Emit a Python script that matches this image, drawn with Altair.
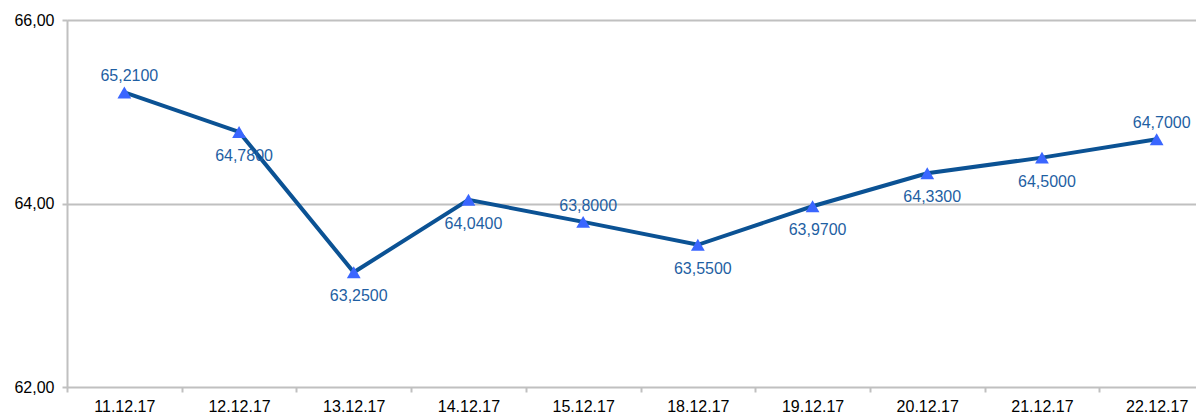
import altair as alt
import pandas as pd

dates = ["11.12.17", "12.12.17", "13.12.17", "14.12.17", "15.12.17",
         "18.12.17", "19.12.17", "20.12.17", "21.12.17", "22.12.17"]
values = [65.21, 64.78, 63.25, 64.04, 63.80, 63.55, 63.97, 64.33, 64.50, 64.70]
label_side = ["above", "below", "below", "below", "above",
              "below", "below", "below", "below", "above"]

df = pd.DataFrame({"idx": list(range(len(dates))), "date": dates,
                   "value": values, "side": label_side})

date_arr = "[" + ",".join(f"'{d}'" for d in dates) + "]"
tick_vals = [i * 0.5 - 0.5 for i in range(2 * len(dates) + 1)]

FONT = "Liberation Sans"

x_enc = alt.X("idx:Q",
              scale=alt.Scale(domain=[-0.5, 9.343], nice=False, zero=False),
              axis=alt.Axis(values=tick_vals, title=None, grid=False,
                            domain=False,
                            labelExpr=f"datum.value % 1 === 0 ? {date_arr}[datum.value] : ''",
                            tickOpacity={"condition": {"test": "datum.value % 1 === 0", "value": 0}, "value": 1},
                            tickSize=5, tickColor="#c0c0c0", tickWidth=2,
                            labelFont=FONT, labelFontSize=16, labelColor="#000000",
                            labelPadding=6, labelOverlap=False, labelFlush=False,
                            labelBound=False))
y_enc = alt.Y("value:Q",
              scale=alt.Scale(domain=[62, 66], nice=False, zero=False),
              axis=alt.Axis(values=[62, 64, 66], title=None,
                            labelExpr="replace(format(datum.value, '.2f'), '.', ',')",
                            grid=True, gridColor="#c0c0c0", gridWidth=2,
                            domain=True, domainColor="#c0c0c0", domainWidth=2,
                            tickSize=5, tickColor="#c0c0c0", tickWidth=2,
                            labelFont=FONT, labelFontSize=16, labelColor="#000000",
                            labelPadding=8, labelFlush=False))

base = alt.Chart(df).encode(x=x_enc, y=y_enc)

line = base.mark_line(color="#0b5294", strokeWidth=4)
pts = base.mark_point(shape="triangle-up", filled=True, size=190,
                      color="#3a66ff", opacity=1)
lab_text = alt.Text("lbl:N")
above = base.transform_filter("datum.side === 'above'").transform_calculate(
    lbl="replace(format(datum.value, '.4f'), '.', ',')"
).mark_text(dy=-16, dx=5, font=FONT, fontSize=16, color="#1f5fa3",
            baseline="middle").encode(text=lab_text)
below = base.transform_filter("datum.side === 'below'").transform_calculate(
    lbl="replace(format(datum.value, '.4f'), '.', ',')"
).mark_text(dy=24, dx=5, font=FONT, fontSize=16, color="#1f5fa3",
            baseline="middle").encode(text=lab_text)

chart = alt.layer(line, pts, above, below).properties(
    width=1129, height=367,
    autosize=alt.AutoSizeParams(type="none"),
    padding={"left": 59, "top": 12, "right": 0, "bottom": 27},
).configure_view(stroke=None).configure(background="#ffffff")

chart.save("out.html", embed_options={"renderer": "svg", "actions": False})
